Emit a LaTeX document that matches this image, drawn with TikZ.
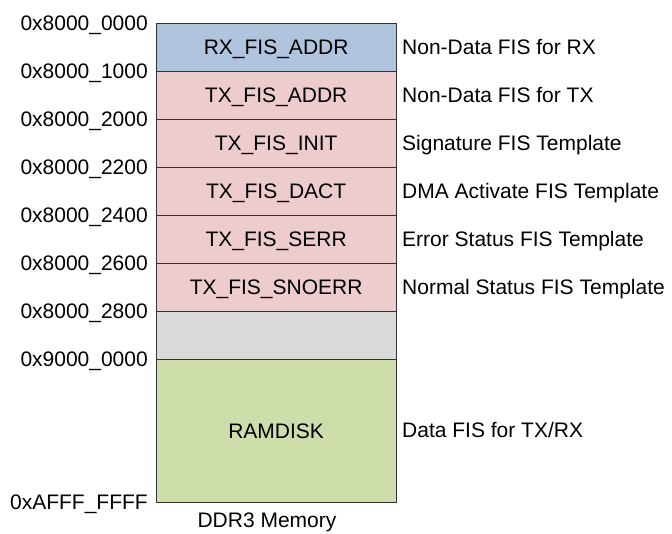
\documentclass[tikz,border=0pt]{standalone}
\usepackage{fontspec}
\setmainfont{Liberation Sans}
\definecolor{rxblue}{RGB}{176,196,222}
\definecolor{txpink}{RGB}{236,204,204}
\definecolor{gapgray}{RGB}{217,217,217}
\definecolor{ramgreen}{RGB}{205,222,171}
\definecolor{edge}{RGB}{50,50,50}
\begin{document}
\begin{tikzpicture}[x=1pt,y=-1pt,
  every node/.style={font=\fontsize{21}{25}\selectfont, inner sep=0pt},
  memrow/.style={draw=edge, line width=0.8pt, minimum width=239.5pt, anchor=north west, text height=15pt, text depth=0pt},
  addr/.style={anchor=base east},
  desc/.style={anchor=base west}]
\useasboundingbox (0,0) rectangle (672,533);
% rows
\node[memrow, fill=rxblue,   minimum height=48pt] (r0) at (156,22.5) {RX\_FIS\_ADDR};
\node[memrow, fill=txpink,   minimum height=48pt] (r1) at (156,70.5) {TX\_FIS\_ADDR};
\node[memrow, fill=txpink,   minimum height=48pt] (r2) at (156,118.5) {TX\_FIS\_INIT};
\node[memrow, fill=txpink,   minimum height=48pt] (r3) at (156,166.5) {TX\_FIS\_DACT};
\node[memrow, fill=txpink,   minimum height=48pt] (r4) at (156,214.5) {TX\_FIS\_SERR};
\node[memrow, fill=txpink,   minimum height=48pt] (r5) at (156,262.5) {TX\_FIS\_SNOERR};
\node[memrow, fill=gapgray,  minimum height=48pt] (r6) at (156,310.5) {};
\node[memrow, fill=ramgreen, minimum height=143.5pt] (r7) at (156,358.5) {RAMDISK};
% address labels
\node[addr] (a0) at (148,30) {0x8000\_0000};
\node[addr] (a1) at (148,78) {0x8000\_1000};
\node[addr] (a2) at (148,126) {0x8000\_2000};
\node[addr] (a3) at (148,174) {0x8000\_2200};
\node[addr] (a4) at (148,222) {0x8000\_2400};
\node[addr] (a5) at (148,270) {0x8000\_2600};
\node[addr] (a6) at (148,318) {0x8000\_2800};
\node[addr] (a7) at (148,366) {0x9000\_0000};
\node[addr] (a8) at (148,509.5) {0xAFFF\_FFFF};
% descriptions
\node[desc] (d0) at (402,54) {Non-Data FIS for RX};
\node[desc] (d1) at (402,102) {Non-Data FIS for TX};
\node[desc] (d2) at (402,150) {Signature FIS Template};
\node[desc] (d3) at (402,198) {DMA Activate FIS Template};
\node[desc] (d4) at (402,246) {Error Status FIS Template};
\node[desc] (d5) at (402,294) {Normal Status FIS Template};
\node[desc] (d7) at (402,437.75) {Data FIS for TX/RX};
% caption
\node[anchor=base] (cap) at (267,527) {DDR3 Memory};
\end{tikzpicture}
\end{document}
